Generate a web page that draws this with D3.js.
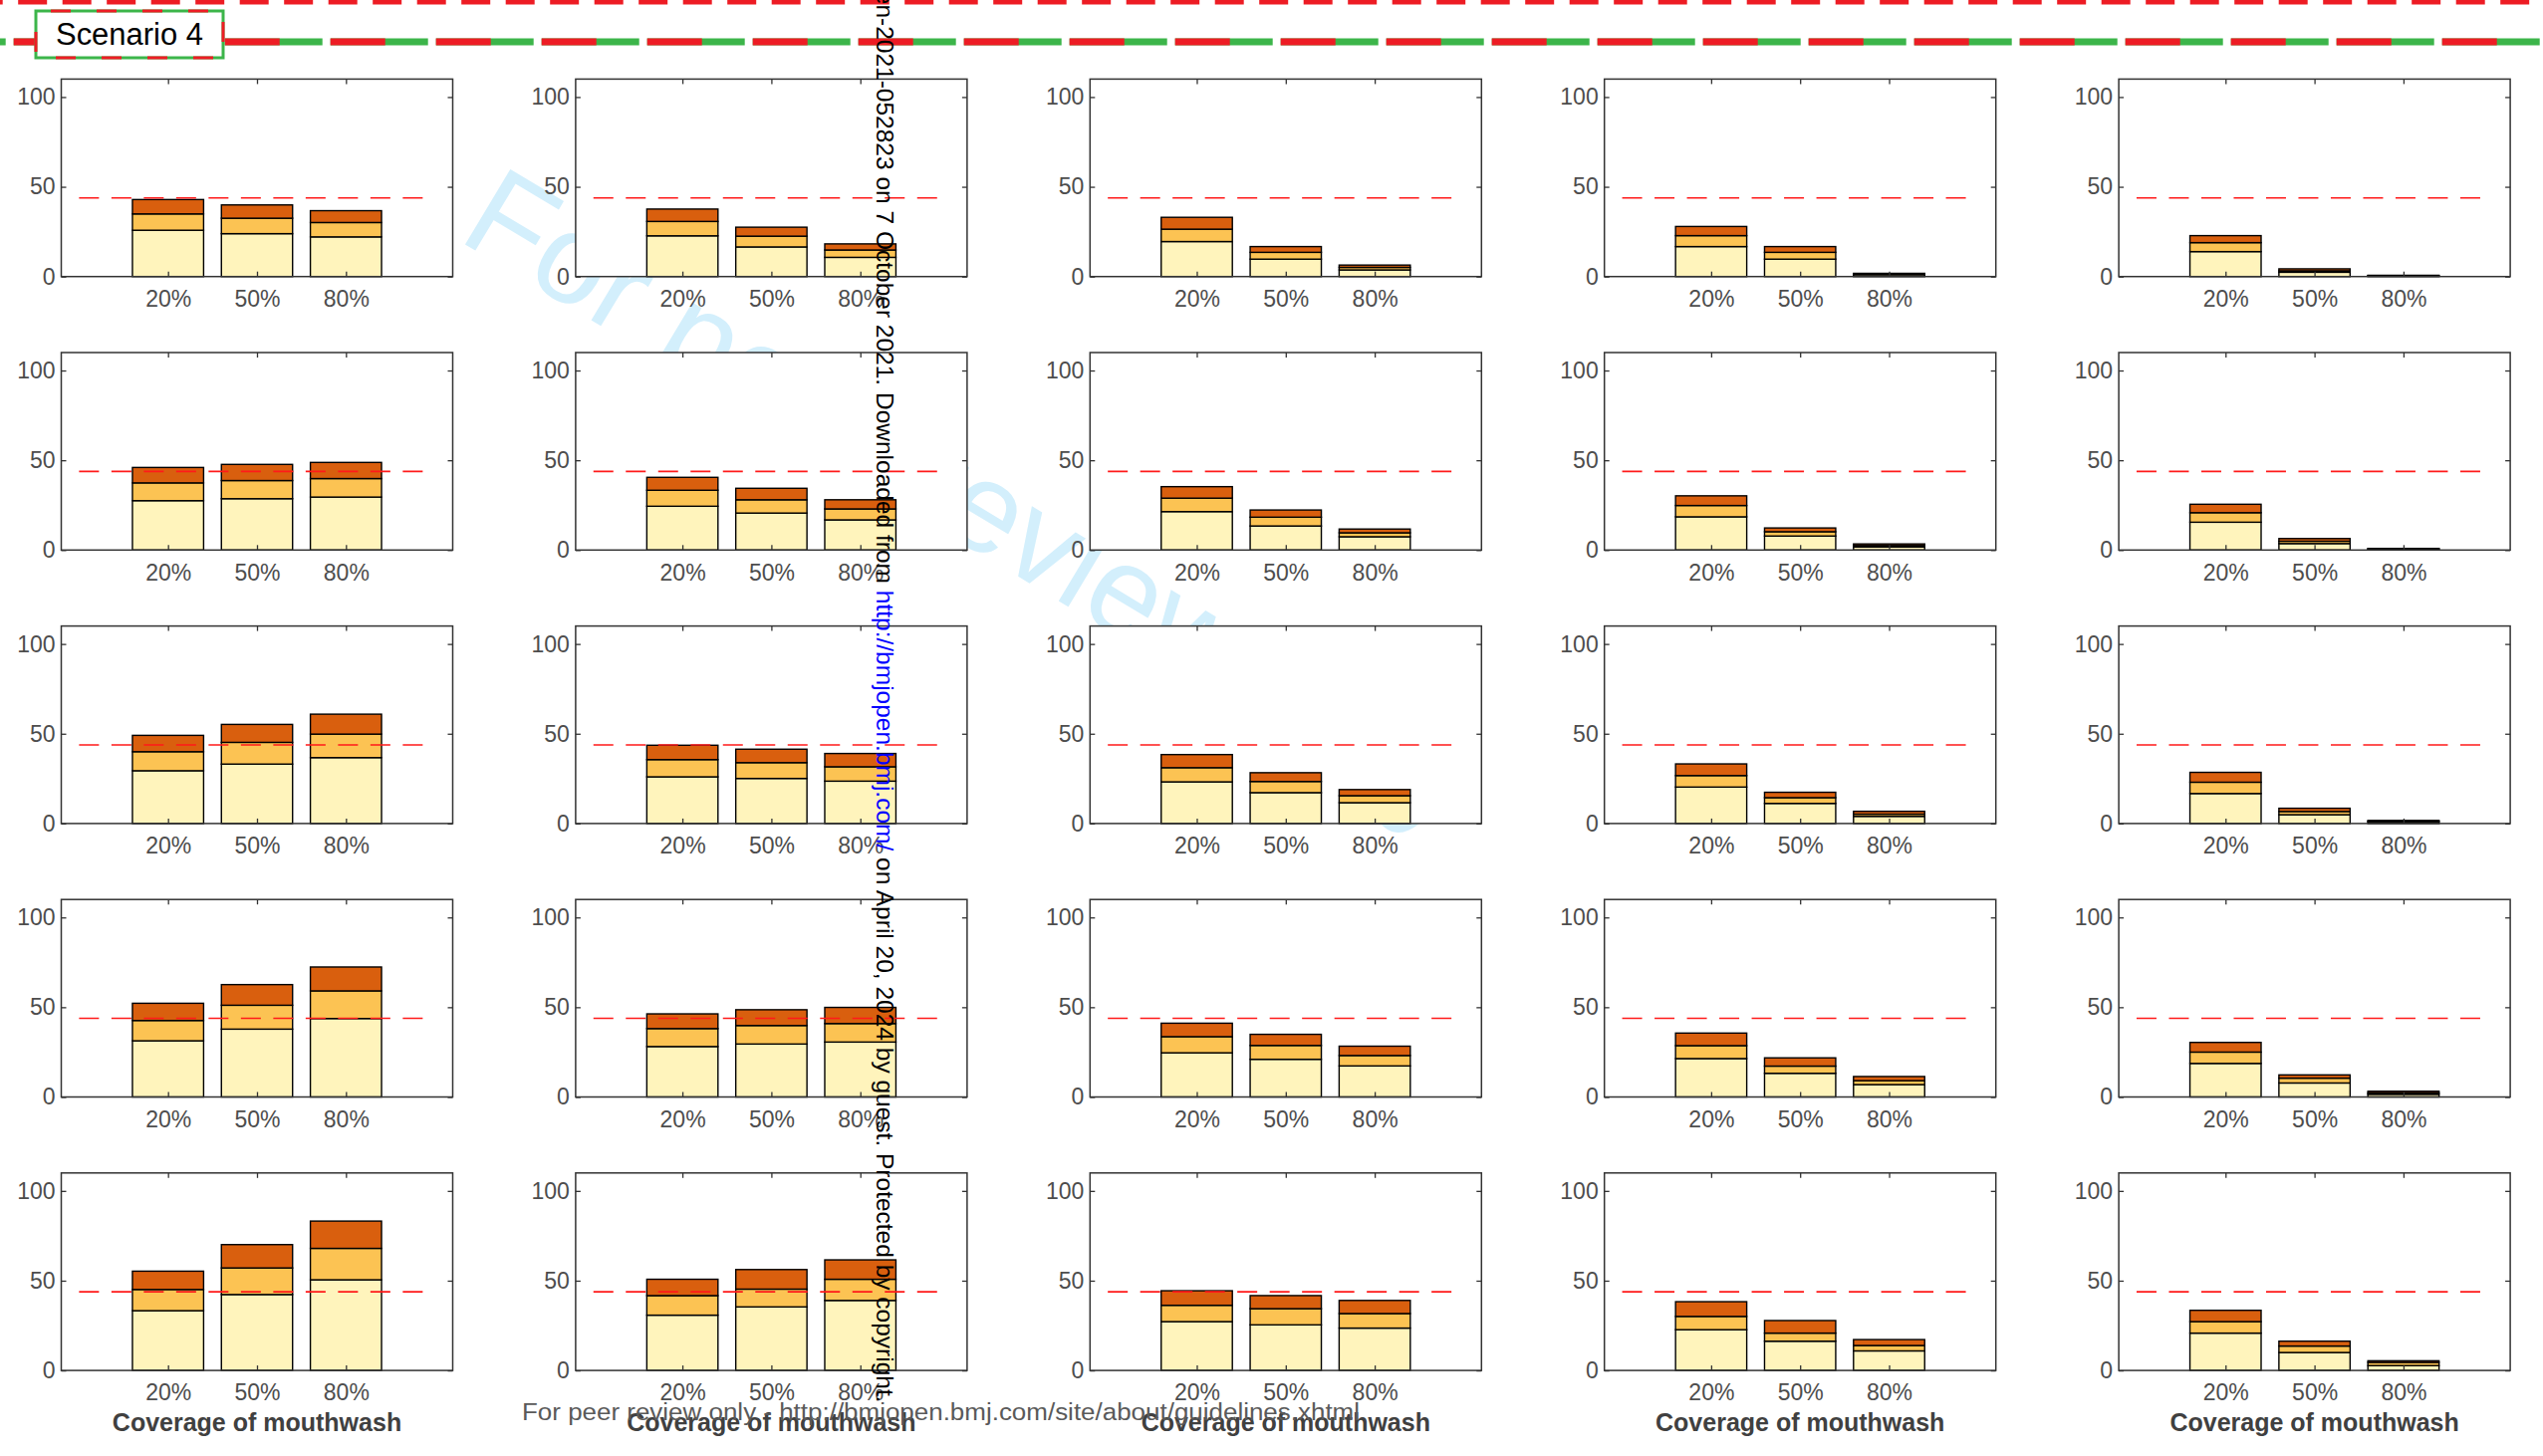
<!DOCTYPE html>
<html>
<head>
<meta charset="utf-8">
<script src="https://cdn.jsdelivr.net/npm/d3@7"></script>
<style>
  html, body { margin: 0; padding: 0; background: #ffffff; }
  svg { display: block; }
</style>
</head>
<body>
<script>
// ---------------- DATA ----------------
const categories = ["20%", "50%", "80%"];
const yTickValues = [0, 50, 100];
const threshold = 43.8;
const xAxisTitle = "Coverage of mouthwash";
const scenarioLabel = "Scenario 4";

// Stacked layer heights, indexed [row][column][coverage category]
const layerBottom = [
  [[25.8, 23.9, 22.1], [22.7, 16.5, 10.7], [19.5, 9.7, 3.7], [16.7, 9.7, 1.0], [13.9, 2.4, 0.3]],
  [[27.5, 28.6, 29.5], [24.4, 20.6, 16.8], [21.4, 13.4, 7.4], [18.5, 7.8, 1.7], [15.5, 3.6, 0.5]],
  [[29.4, 33.1, 36.7], [26.0, 25.1, 23.6], [23.2, 17.2, 11.6], [20.3, 11.2, 4.0], [16.7, 4.9, 1.0]],
  [[31.3, 37.8, 43.7], [28.1, 29.5, 30.6], [24.6, 21.0, 17.3], [21.4, 13.2, 6.9], [18.7, 7.8, 1.5]],
  [[33.3, 42.3, 50.5], [30.8, 35.4, 39.0], [27.2, 25.4, 23.6], [22.7, 16.3, 10.9], [20.8, 10.0, 2.7]]
];
const layerMiddle = [
  [[9.1, 8.6, 8.0], [8.0, 6.0, 4.1], [6.9, 3.8, 1.4], [6.1, 3.8, 0.4], [5.0, 0.8, 0.2]],
  [[9.9, 10.1, 10.3], [8.9, 7.4, 6.1], [7.5, 4.9, 2.2], [6.3, 2.4, 0.8], [5.3, 1.3, 0.2]],
  [[10.6, 12.1, 13.1], [9.6, 8.8, 8.0], [7.9, 6.2, 3.9], [6.4, 3.2, 1.2], [6.3, 1.8, 0.3]],
  [[11.3, 13.3, 15.4], [10.0, 10.3, 10.3], [9.0, 7.7, 5.8], [7.2, 4.0, 2.2], [6.3, 2.7, 0.8]],
  [[11.8, 14.8, 17.5], [10.9, 9.9, 11.8], [9.1, 9.0, 8.1], [7.4, 4.5, 3.0], [6.4, 3.6, 1.8]]
];
const layerTop = [
  [[8.0, 7.4, 6.6], [6.9, 5.0, 3.4], [6.6, 3.2, 1.3], [5.1, 3.2, 0.4], [3.9, 1.1, 0.2]],
  [[8.6, 9.0, 9.0], [7.2, 6.4, 5.1], [6.4, 4.0, 2.1], [5.4, 2.1, 0.9], [4.7, 1.5, 0.2]],
  [[9.1, 10.0, 11.1], [8.0, 7.5, 7.4], [7.3, 4.9, 3.4], [6.5, 3.0, 1.6], [5.5, 1.8, 0.4]],
  [[9.6, 11.5, 13.3], [8.2, 8.8, 9.0], [7.5, 6.2, 5.2], [7.0, 4.6, 2.3], [5.4, 1.8, 0.9]],
  [[10.2, 13.0, 15.2], [9.1, 10.9, 10.8], [8.1, 7.3, 7.3], [8.2, 7.0, 3.3], [6.3, 2.7, 0.9]]
];

const watermarkText = "For peer review only";
const sideNoteParts = [
  "BMJ Open: first published as 10.1136/bmjopen-2021-052823 on 7 October 2021. Downloaded from ",
  "http://bmjopen.bmj.com/",
  " on April 20, 2024 by guest. Protected by copyright."
];
const footerText = "For peer review only - http://bmjopen.bmj.com/site/about/guidelines.xhtml";

// ---------------- LAYOUT / STYLE ----------------
const W = 2553, H = 1462;
const FONT = "'Liberation Sans', Arial, Helvetica, sans-serif";
const layerKeys = ["bottom", "middle", "top"];
const layerColors = ["#fff4bc", "#fcc353", "#d95f0e"];
const panelW = 393, panelH = 198.3;
const colX = c => 61.5 + c * 516.4;
const rowY = r => 79.4 + r * 274.6;
const axisColor = "#333333";
const labelColor = "#4d4d4d";
const RED = "#ed1c24", GREEN = "#3cb54a";

const svg = d3.select("body").append("svg")
  .attr("width", W).attr("height", H)
  .attr("viewBox", `0 0 ${W} ${H}`);

svg.append("rect").attr("width", W).attr("height", H).attr("fill", "#ffffff");

// Watermark (behind everything)
svg.append("text")
  .attr("transform", "translate(458,240) rotate(31)")
  .attr("font-family", FONT)
  .attr("font-size", 128)
  .attr("fill", "#d3effc")
  .text(watermarkText);

// Top decorations
svg.append("line")
  .attr("x1", -26.3).attr("x2", W).attr("y1", 2).attr("y2", 2)
  .attr("stroke", RED).attr("stroke-width", 5)
  .attr("stroke-dasharray", "29 15.5");
svg.append("line")
  .attr("x1", -92.3).attr("x2", W).attr("y1", 42).attr("y2", 42)
  .attr("stroke", GREEN).attr("stroke-width", 7)
  .attr("stroke-dasharray", "98 8");
svg.append("line")
  .attr("x1", -92.3).attr("x2", W).attr("y1", 42).attr("y2", 42)
  .attr("stroke", RED).attr("stroke-width", 7)
  .attr("stroke-dasharray", "55 51");

const sbox = svg.append("g");
sbox.append("rect").attr("x", 36).attr("y", 11).attr("width", 188).attr("height", 47)
  .attr("fill", "#ffffff").attr("stroke", GREEN).attr("stroke-width", 3);
sbox.append("rect").attr("x", 36).attr("y", 11).attr("width", 188).attr("height", 47)
  .attr("fill", "none").attr("stroke", RED).attr("stroke-width", 3)
  .attr("stroke-dasharray", "20 26").attr("stroke-dashoffset", -15);
sbox.append("text").attr("x", 130).attr("y", 45).attr("text-anchor", "middle")
  .attr("font-family", FONT).attr("font-size", 31).attr("fill", "#000")
  .attr("textLength", 148).attr("lengthAdjust", "spacingAndGlyphs")
  .text(scenarioLabel);

// Scales shared by every panel
const x = d3.scaleLinear().domain([-0.2, 4.2]).range([0, panelW]);
const y = d3.scaleLinear().domain([0, 110]).range([panelH, 0]);
const stack = d3.stack().keys(layerKeys);
const barHalf = 0.4;

for (let r = 0; r < 5; r++) {
  for (let c = 0; c < 5; c++) {
    const g = svg.append("g").attr("transform", `translate(${colX(c)},${rowY(r)})`);
    g.append("rect").attr("width", panelW).attr("height", panelH).attr("fill", "#ffffff");

    const rows = categories.map((cat, i) => ({
      pos: i + 1, cat,
      bottom: layerBottom[r][c][i],
      middle: layerMiddle[r][c][i],
      top: layerTop[r][c][i]
    }));
    const series = stack(rows);

    g.selectAll("g.layer").data(series).join("g")
      .attr("class", "layer")
      .attr("fill", (d, i) => layerColors[i])
      .selectAll("rect").data(d => d).join("rect")
      .attr("x", d => x(d.data.pos - barHalf))
      .attr("width", d => x(d.data.pos + barHalf) - x(d.data.pos - barHalf))
      .attr("y", d => y(d[1]))
      .attr("height", d => Math.max(0, y(d[0]) - y(d[1])))
      .attr("stroke", "#000").attr("stroke-width", 1.4);

    // threshold line
    g.append("line")
      .attr("x1", x(0)).attr("x2", x(4))
      .attr("y1", y(threshold)).attr("y2", y(threshold))
      .attr("stroke", "#ff1a1a").attr("stroke-width", 1.6)
      .attr("stroke-dasharray", "20 12.5");

    // axes
    const left = g.append("g").call(d3.axisLeft(y).tickValues(yTickValues).tickSize(-5).tickPadding(6));
    const right = g.append("g").attr("transform", `translate(${panelW},0)`)
      .call(d3.axisRight(y).tickValues(yTickValues).tickSize(-5).tickFormat(""));
    const bottom = g.append("g").attr("transform", `translate(0,${panelH})`)
      .call(d3.axisBottom(x).tickValues([1, 2, 3]).tickFormat(v => categories[v - 1]).tickSize(-5).tickPadding(14));
    const top = g.append("g")
      .call(d3.axisTop(x).tickValues([1, 2, 3]).tickSize(-5).tickFormat(""));
    [left, right, bottom, top].forEach(a => {
      a.select(".domain").remove();
      a.selectAll(".tick line").attr("stroke", axisColor).attr("stroke-width", 1.3);
      a.selectAll(".tick text").attr("fill", labelColor)
        .attr("font-family", FONT).attr("font-size", 23);
    });

    g.append("rect").attr("width", panelW).attr("height", panelH)
      .attr("fill", "none").attr("stroke", axisColor).attr("stroke-width", 1.5);

    if (r === 4) {
      g.append("text")
        .attr("x", panelW / 2).attr("y", panelH + 61)
        .attr("text-anchor", "middle")
        .attr("font-family", FONT).attr("font-weight", "bold").attr("font-size", 25)
        .attr("fill", "#404040")
        .text(xAxisTitle);
    }
  }
}

// Vertical side note (on top)
const sideFont = 24.5;
const probe = svg.append("text").attr("font-family", FONT).attr("font-size", sideFont).text(sideNoteParts[0]);
const prefixLen = probe.node().getComputedTextLength();
probe.remove();
const side = svg.append("text")
  .attr("transform", `translate(879.5,${586 - prefixLen}) rotate(90)`)
  .attr("font-family", FONT).attr("font-size", sideFont);
side.append("tspan").attr("fill", "#000").text(sideNoteParts[0]);
side.append("tspan").attr("fill", "#0000ff").text(sideNoteParts[1]);
side.append("tspan").attr("fill", "#000").text(sideNoteParts[2]);

// Footer
svg.append("text")
  .attr("x", 524).attr("y", 1426)
  .attr("font-family", FONT).attr("font-size", 23)
  .attr("fill", "#5a5a5a")
  .attr("textLength", 841).attr("lengthAdjust", "spacingAndGlyphs")
  .text(footerText);
</script>
</body>
</html>
